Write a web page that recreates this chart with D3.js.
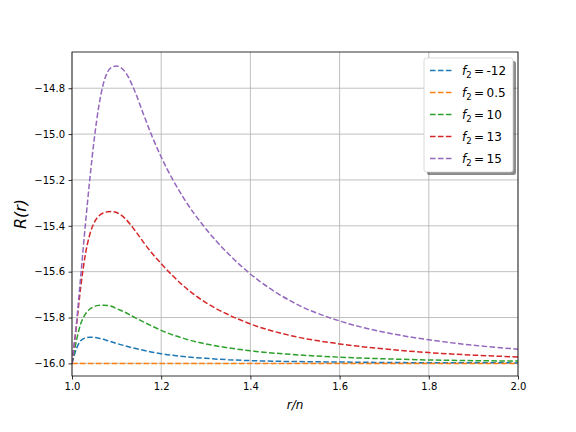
<!DOCTYPE html>
<html>
<head>
<meta charset="utf-8">
<script src="https://cdnjs.cloudflare.com/ajax/libs/d3/7.8.5/d3.min.js"></script>
<style>
  body { margin: 0; background: #fff; }
  svg { display: block; }
</style>
</head>
<body>
<script>
// r/n sample points, shared by every curve
const rValues = [1.0, 1.01, 1.02, 1.03, 1.04, 1.05, 1.06, 1.07, 1.08, 1.09, 1.10,
  1.12, 1.14, 1.16, 1.18, 1.20, 1.25, 1.30, 1.35, 1.40, 1.50, 1.60, 1.70, 1.80, 1.90, 2.00];

const f2Labels = ["-12", "0.5", "10", "13", "15"];

const rNeg12 = [-16.0, -15.935, -15.900, -15.889, -15.886, -15.887, -15.890, -15.895, -15.901, -15.907, -15.913,
  -15.924, -15.934, -15.943, -15.951, -15.958, -15.970, -15.978, -15.984, -15.988, -15.992, -15.994, -15.996, -15.997, -15.997, -15.998];
const r05 = [-16.0, -16.0, -16.0, -16.0, -16.0, -16.0, -16.0, -16.0, -16.0, -16.0, -16.0,
  -16.0, -16.0, -16.0, -16.0, -16.0, -16.0, -16.0, -16.0, -16.0, -16.0, -16.0, -16.0, -16.0, -16.0, -16.0];
const r10 = [-16.0, -15.900, -15.825, -15.785, -15.763, -15.752, -15.747, -15.746, -15.748, -15.752, -15.761,
  -15.778, -15.799, -15.819, -15.838, -15.856, -15.891, -15.915, -15.932, -15.945, -15.962, -15.973, -15.980, -15.985, -15.988, -15.990];
const r13 = [-16.0, -15.835, -15.660, -15.525, -15.437, -15.385, -15.357, -15.344, -15.339, -15.338, -15.342,
  -15.370, -15.417, -15.471, -15.521, -15.565, -15.662, -15.735, -15.787, -15.828, -15.883, -15.915, -15.937, -15.953, -15.964, -15.972];
const r15 = [-16.0, -15.825, -15.610, -15.395, -15.195, -15.020, -14.880, -14.783, -14.728, -14.708, -14.703,
  -14.731, -14.809, -14.912, -15.012, -15.100, -15.278, -15.413, -15.521, -15.610, -15.738, -15.815, -15.864, -15.897, -15.921, -15.938];

const seriesValues = [rNeg12, r05, r10, r13, r15];
const colors = ["#1f77b4", "#ff7f0e", "#2ca02c", "#d62728", "#9467bd"];

const xTicks = [1.0, 1.2, 1.4, 1.6, 1.8, 2.0];
const yTicks = [-16.0, -15.8, -15.6, -15.4, -15.2, -15.0, -14.8];

const width = 576, height = 432;
const margin = { top: 52, right: 58, bottom: 56, left: 72 };

const x = d3.scaleLinear().domain([1.0, 2.0]).range([margin.left, width - margin.right]);
const y = d3.scaleLinear().domain([-16.055, -14.642]).range([height - margin.bottom, margin.top]);

const svg = d3.select("body").append("svg")
  .attr("width", width)
  .attr("height", height)
  .style("font-family", "DejaVu Sans, sans-serif");

const minus = s => s.replace("-", "\u2212");

// grid
svg.append("g")
  .selectAll("line")
  .data(xTicks)
  .join("line")
  .attr("x1", d => x(d)).attr("x2", d => x(d))
  .attr("y1", margin.top).attr("y2", height - margin.bottom)
  .attr("stroke", "#b0b0b0").attr("stroke-width", 0.8);
svg.append("g")
  .selectAll("line")
  .data(yTicks)
  .join("line")
  .attr("y1", d => y(d)).attr("y2", d => y(d))
  .attr("x1", margin.left).attr("x2", width - margin.right)
  .attr("stroke", "#b0b0b0").attr("stroke-width", 0.8);

// curves
const line = d3.line()
  .x((d, i) => x(rValues[i]))
  .y(d => y(d))
  .curve(d3.curveMonotoneX);

svg.append("defs").append("clipPath").attr("id", "clip")
  .append("rect")
  .attr("x", margin.left).attr("y", margin.top)
  .attr("width", width - margin.left - margin.right)
  .attr("height", height - margin.top - margin.bottom);

svg.append("g").attr("clip-path", "url(#clip)")
  .selectAll("path")
  .data(seriesValues)
  .join("path")
  .attr("d", d => line(d))
  .attr("fill", "none")
  .attr("stroke", (d, i) => colors[i])
  .attr("stroke-width", 1.5)
  .attr("stroke-dasharray", "5.55,2.4");

// axes
const xAxis = svg.append("g")
  .attr("transform", `translate(0,${height - margin.bottom})`)
  .call(d3.axisBottom(x).tickValues(xTicks).tickFormat(d3.format(".1f")).tickSize(3.5).tickPadding(3.5));
const yAxis = svg.append("g")
  .attr("transform", `translate(${margin.left},0)`)
  .call(d3.axisLeft(y).tickValues(yTicks).tickFormat(d => minus(d3.format(".1f")(d))).tickSize(3.5).tickPadding(3.5));

[xAxis, yAxis].forEach(g => {
  g.select(".domain").remove();
  g.selectAll(".tick line").attr("stroke", "#000").attr("stroke-width", 0.8);
  g.selectAll(".tick text").attr("fill", "#000").style("font-size", "10px").style("font-family", "DejaVu Sans, sans-serif");
});

// frame
svg.append("rect")
  .attr("x", margin.left).attr("y", margin.top)
  .attr("width", width - margin.left - margin.right)
  .attr("height", height - margin.top - margin.bottom)
  .attr("fill", "none").attr("stroke", "#000").attr("stroke-width", 0.8);

// axis labels
svg.append("text")
  .attr("x", (margin.left + width - margin.right) / 2)
  .attr("y", 409)
  .attr("text-anchor", "middle")
  .style("font-size", "12px")
  .style("font-style", "italic")
  .text("r/n");

svg.append("text")
  .attr("transform", `translate(26,${(margin.top + height - margin.bottom) / 2}) rotate(-90)`)
  .attr("text-anchor", "middle")
  .style("font-size", "16px")
  .style("font-style", "italic")
  .text("R(r)");

// legend
const lg = svg.append("g").attr("transform", "translate(424,58)");
lg.append("rect")
  .attr("x", 3).attr("y", 3).attr("width", 89).attr("height", 114)
  .attr("rx", 2.5).attr("fill", "#000").attr("opacity", 0.45);
lg.append("rect")
  .attr("x", 0).attr("y", 0).attr("width", 89).attr("height", 114)
  .attr("rx", 2.5).attr("fill", "#fff").attr("stroke", "#d0d0d0").attr("stroke-width", 0.8);

const item = lg.selectAll("g.item")
  .data(f2Labels)
  .join("g")
  .attr("transform", (d, i) => `translate(0,${12.5 + i * 22})`);
item.append("line")
  .attr("x1", 6).attr("x2", 28)
  .attr("stroke", (d, i) => colors[i])
  .attr("stroke-width", 1.5)
  .attr("stroke-dasharray", "5.55,2.4");
const t = item.append("text")
  .attr("x", 38).attr("y", 4.5)
  .style("font-size", "12px");
t.append("tspan").style("font-style", "italic").text("f");
t.append("tspan").attr("dy", 2.5).style("font-size", "8.5px").text("2");
t.append("tspan").attr("dy", -2.5).text("\u2009=\u2009");
t.append("tspan").text(d => d);
</script>
</body>
</html>
